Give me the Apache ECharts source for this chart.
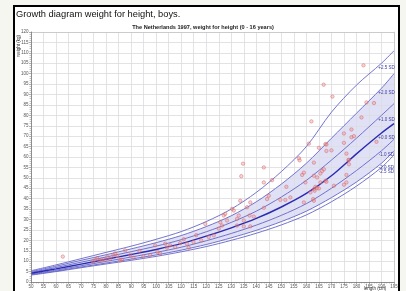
<!DOCTYPE html>
<html>
<head>
<meta charset="utf-8">
<script src="https://cdn.jsdelivr.net/npm/echarts@6/dist/echarts.min.js"></script>
<style>
  html, body { margin: 0; padding: 0; background: #f6f6f1; }
  #chart { width: 406px; height: 291px; }
</style>
</head>
<body>
<div id="chart"></div>
<script>
// lengte (cm) waarop de referentielijnen gegeven zijn
const lengthCm = [50, 60, 70, 80, 90, 100, 110, 120, 130, 140, 150, 160, 170, 180, 190, 195];

// referentielijnen gewicht (kg)
const sdPlus25  = [5.4, 8.2, 11.2, 14.2, 17.2, 20.5, 24.2, 29.0, 35.0, 43.0, 53.0, 65.0, 81.5, 94.5, 105.0, 111.0];
const sdPlus20  = [5.0, 7.6, 10.4, 13.1, 15.9, 18.9, 22.3, 26.6, 31.8, 38.5, 47.0, 57.0, 69.0, 81.0, 93.0, 100.0];
const sdPlus10  = [4.6, 6.95, 9.5, 12.0, 14.55, 17.2, 20.3, 24.1, 28.6, 34.0, 40.8, 48.8, 58.5, 69.0, 80.0, 85.6];
const sdMedian  = [4.2, 6.3, 8.6, 10.9, 13.2, 15.6, 18.4, 22.0, 26.0, 30.5, 36.0, 42.5, 51.0, 61.5, 71.5, 76.0];
const sdMin10   = [3.8, 5.7, 7.8, 9.9, 12.0, 14.2, 16.7, 19.8, 23.3, 27.3, 32.0, 37.6, 45.0, 53.5, 63.0, 68.5];
const sdMin20   = [3.5, 5.25, 7.2, 9.1, 11.0, 13.0, 15.3, 18.0, 21.2, 24.8, 29.0, 34.0, 40.5, 48.0, 57.0, 63.0];
const sdMin25   = [3.3, 5.0, 6.85, 8.65, 10.4, 12.3, 14.5, 17.0, 20.0, 23.4, 27.4, 32.2, 38.5, 46.0, 55.0, 61.0];

const sdNames = ['+2.5 SD', '+2.0 SD', '+1.0 SD', '+0.0 SD', '-1.0 SD', '-2.0 SD', '-2.5 SD'];

// metingen
const measuredLength = [
  62.7, 74.7, 75.6, 76.5, 77.3, 78.3, 79.6, 80.5, 81.6, 82.9, 83.6, 84.5, 85.6, 86.3, 87.6,
  89.6, 90.9, 93.3, 94.9, 97.6, 99.6, 100.5, 101.6, 103.6, 104.3, 105.6, 107.6, 109.6, 111, 112.3,
  113, 114.9, 116, 118, 119.6, 121, 123, 125, 125.6, 126.3, 127, 127.6, 128.3, 130.3, 131,
  132.3, 132.3, 133, 133.6, 134, 134.7, 135, 135, 136.3, 137.3, 137.6, 137.6, 139, 143, 143,
  143, 144.3, 145, 146.3, 149.6, 151.6, 152, 153.6, 157, 157.3, 158.3, 159, 159, 159.6, 161,
  161.6, 162, 162.7, 163, 163, 163, 163, 163.3, 163.6, 164.3, 164.3, 165, 165, 165.6, 165.6,
  166.3, 166.9, 167, 167.6, 167.6, 168, 168, 168, 170, 170.4, 171, 175, 175, 175, 176,
  176, 176, 176.8, 177, 177, 178, 178, 179, 182, 182.8, 184, 187, 188
];
const measuredWeight = [
  12.2, 9.7, 10.8, 11.3, 10.2, 10.8, 10.5, 12.1, 11.0, 12.9, 13.7, 12.4, 10.5, 10.8, 15.2,
  12.9, 11.7, 14.9, 12.4, 12.9, 17.6, 14.4, 13.7, 18.4, 16.5, 17.6, 16.8, 18.7, 20.5, 18.4,
  16.5, 19.2, 22.5, 20.0, 27.9, 21.6, 22.4, 25.6, 28.7, 27.1, 31.9, 32.7, 29.5, 35.1, 34.3,
  30.3, 27.1, 31.9, 39.0, 50.8, 56.8, 29.5, 26.7, 35.9, 31.9, 38.2, 26.7, 31.4, 35.6, 47.8,
  55.0, 39.8, 41.4, 48.9, 39.4, 39.4, 45.7, 40.6, 59.4, 58.4, 51.4, 52.5, 38.2, 47.8, 66.4,
  43.0, 77.1, 39.8, 57.3, 51.0, 44.6, 39.0, 43.8, 45.7, 50.2, 45.1, 64.4, 44.9, 52.1, 47.8,
  53.3, 94.7, 54.1, 48.6, 66.2, 66.0, 62.9, 48.1, 63.2, 89.0, 46.2, 71.3, 66.8, 46.7, 47.8,
  51.4, 61.6, 58.6, 56.5, 58.6, 73.2, 69.5, 70.0, 79.0, 104.0, 86.2, 85.9, 67.3
];

const lineBlue = '#6464c8';
const labelAt = 190;

function curveData(values, name) {
  return lengthCm.map((x, i) => {
    const item = { value: [x, values[i]] };
    if (name && x === labelAt) {
      item.label = {
        show: true, formatter: name, position: 'bottom', distance: 2,
        offset: [5, 0], fontSize: 4.5, color: '#3a3aa0', fontFamily: 'Liberation Sans'
      };
    }
    return item;
  });
}

function curve(values, name, extra) {
  return Object.assign({
    name: name,
    type: 'line',
    smooth: 0.3,
    symbol: 'circle',
    symbolSize: 0,
    showSymbol: true,
    lineStyle: { color: lineBlue, width: 0.9 },
    itemStyle: { color: lineBlue },
    data: curveData(values, name),
    silent: true,
    z: 4
  }, extra || {});
}

// vlakken: band tot +2 SD, daaronder wit tot -2 SD
function fill(values, color) {
  return {
    type: 'line', smooth: 0.3, symbol: 'none', silent: true,
    lineStyle: { width: 0 },
    areaStyle: { color: color, opacity: 1 },
    data: curveData(values, null),
    z: 1
  };
}

var myChart = echarts.init(document.getElementById('chart'), null, { renderer: 'canvas' });

const axisBase = {
  type: 'value',
  axisLine: { show: true, onZero: false, lineStyle: { color: '#777', width: 0.8 } },
  axisTick: { show: true, length: 2, lineStyle: { color: '#777', width: 0.6 } },
  minorTick: { show: true, splitNumber: 5, length: 1.5, lineStyle: { color: '#888', width: 0.5 } },
  axisLabel: { fontSize: 4.5, color: '#555', margin: 2.5 },
  splitLine: { show: false },
  z: 6
};
const gridLines = {
  type: 'value',
  axisLine: { show: true, onZero: false, lineStyle: { color: '#bbbbbb', width: 0.6 } },
  axisTick: { show: false },
  axisLabel: { show: false },
  splitLine: { show: true, lineStyle: { color: '#dcdce0', width: 0.8 } },
  z: 3
};

var option = {
  backgroundColor: 'transparent',
  animation: false,
  textStyle: { fontFamily: 'Liberation Sans' },
  graphic: [
    {
      type: 'rect', shape: { x: 14, y: 6, width: 385, height: 300 },
      style: { fill: '#ffffff', stroke: '#000000', lineWidth: 2 }, z: -10, silent: true
    },
    {
      type: 'text', left: 16, top: 10,
      style: { text: 'Growth diagram weight for height, boys.', fontSize: 9.3, fill: '#111',
        fontFamily: 'Liberation Sans' }
    },
    {
      type: 'text', left: 'center', top: 24,
      style: { text: 'The Netherlands 1997, weight for height (0 - 16 years)', fontSize: 5.6,
        fontWeight: 'bold', fill: '#222', fontFamily: 'Liberation Sans' }
    },
    {
      type: 'text', x: 18.5, y: 46, rotation: Math.PI / 2,
      style: { text: 'weight (kg)', fontSize: 4.5, fill: '#333', align: 'center',
        verticalAlign: 'middle', fontFamily: 'Liberation Sans' }
    },
    {
      type: 'text', x: 375, y: 289,
      style: { text: 'length (cm)', fontSize: 4.5, fill: '#333', align: 'center',
        verticalAlign: 'middle', fontFamily: 'Liberation Sans' }
    }
  ],
  grid: { left: 31, right: 12, top: 32, bottom: 9, containLabel: false },
  xAxis: [
    Object.assign({}, axisBase, { min: 50, max: 195, interval: 5, position: 'bottom' }),
    Object.assign({}, gridLines, { min: 50, max: 195, interval: 5, position: 'top' })
  ],
  yAxis: [
    Object.assign({}, axisBase, { min: 0, max: 120, interval: 5, position: 'left' }),
    Object.assign({}, gridLines, { min: 0, max: 120, interval: 5, position: 'right' })
  ],
  series: [
    fill(sdPlus20, '#e0e0f6'),
    fill(sdMin20, '#ffffff'),
    curve(sdPlus25, sdNames[0]),
    curve(sdPlus20, sdNames[1]),
    curve(sdPlus10, sdNames[2]),
    curve(sdMedian, sdNames[3], { lineStyle: { color: '#2a2ab4', width: 1.4 }, z: 4.5 }),
    curve(sdMin10, sdNames[4]),
    curve(sdMin20, sdNames[5]),
    curve(sdMin25, sdNames[6]),
    {
      name: 'metingen',
      type: 'scatter',
      symbol: 'circle',
      symbolSize: 3.4,
      data: measuredLength.map((x, i) => [x, measuredWeight[i]]),
      itemStyle: { color: 'rgba(235,140,140,0.45)', borderColor: '#d86060', borderWidth: 0.6 },
      z: 5
    }
  ]
};

myChart.setOption(option);
</script>
</body>
</html>
